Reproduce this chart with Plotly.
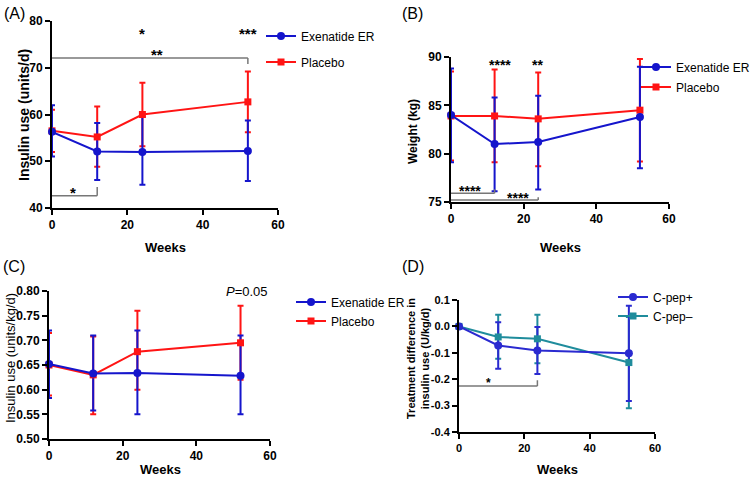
import plotly.graph_objects as go

weeks = [0, 12, 24, 52]

# Panel A: insulin use (units/d)
a_exe = [56.3, 52.1, 52.0, 52.2]
a_exe_hi = [62.0, 58.2, 59.5, 58.7]
a_exe_lo = [51.0, 46.0, 45.0, 45.8]
a_pla = [56.5, 55.2, 60.0, 62.7]
a_pla_hi = [61.0, 61.7, 66.8, 69.2]
a_pla_lo = [52.0, 48.8, 53.2, 56.2]

# Panel B: weight (kg)
b_exe = [84.0, 81.0, 81.2, 83.8]
b_exe_hi = [88.8, 85.8, 86.0, 89.0]
b_exe_lo = [79.1, 76.1, 76.3, 78.5]
b_pla = [83.9, 83.9, 83.6, 84.5]
b_pla_hi = [88.5, 88.7, 88.4, 89.8]
b_pla_lo = [79.3, 79.1, 78.7, 79.2]

# Panel C: insulin use (units/kg/d)
c_exe = [0.652, 0.633, 0.634, 0.628]
c_exe_hi = [0.720, 0.710, 0.720, 0.710]
c_exe_lo = [0.583, 0.558, 0.550, 0.550]
c_pla = [0.650, 0.630, 0.677, 0.695]
c_pla_hi = [0.715, 0.708, 0.760, 0.770]
c_pla_lo = [0.588, 0.550, 0.600, 0.620]

# Panel D: treatment difference (U/kg/d)
d_pos = [0.0, -0.072, -0.091, -0.102]
d_pos_hi = [0.0, 0.016, -0.002, 0.078]
d_pos_lo = [0.0, -0.160, -0.180, -0.283]
d_neg = [0.0, -0.040, -0.047, -0.137]
d_neg_hi = [0.0, 0.044, 0.044, 0.036]
d_neg_lo = [0.0, -0.123, -0.140, -0.310]

x_ticks = [0, 20, 40, 60]
a_yticks = [40, 50, 60, 70, 80]
b_yticks = [75, 80, 85, 90]
c_yticks = [0.50, 0.55, 0.60, 0.65, 0.70, 0.75, 0.80]
d_yticks = [0.1, 0.0, -0.1, -0.2, -0.3, -0.4]
d_yticktext = ["0.1", "0.0", "-0.1", "-0.2", "-0.3", "-0.4"]

BLUE = "#1515cc"
RED = "#ff1414"
DBLUE = "#2a2ad0"
TEAL = "#1f8c9c"
GRAY = "#777777"
FONT = "Liberation Sans, Arial, sans-serif"

fig = go.Figure()


def err(mean, hi, lo, color, width=3):
    return dict(type="data", symmetric=False,
                array=[h - m for h, m in zip(hi, mean)],
                arrayminus=[m - l for m, l in zip(mean, lo)],
                color=color, thickness=2, width=width)


def panel(xa, ya, series):
    # error bars first
    for (name, mean, hi, lo, color, sym, leg) in series:
        fig.add_trace(go.Scatter(x=weeks, y=mean, mode="markers",
                                 marker=dict(size=1, opacity=0, color=color),
                                 error_y=err(mean, hi, lo, color),
                                 xaxis=xa, yaxis=ya, showlegend=False,
                                 cliponaxis=False, hoverinfo="skip"))
    for (name, mean, hi, lo, color, sym, leg) in series:
        fig.add_trace(go.Scatter(x=weeks, y=mean, mode="lines+markers", name=name,
                                 line=dict(color=color, width=2),
                                 marker=dict(symbol=sym, size=8 if sym == "circle" else 7, color=color),
                                 xaxis=xa, yaxis=ya, legend=leg, cliponaxis=False))


panel("x", "y", [("Placebo", a_pla, a_pla_hi, a_pla_lo, RED, "square", "legend2"),
                 ("Exenatide ER", a_exe, a_exe_hi, a_exe_lo, BLUE, "circle", "legend")])
panel("x2", "y2", [("Placebo", b_pla, b_pla_hi, b_pla_lo, RED, "square", "legend4"),
                   ("Exenatide ER", b_exe, b_exe_hi, b_exe_lo, BLUE, "circle", "legend3")])
panel("x3", "y3", [("Placebo", c_pla, c_pla_hi, c_pla_lo, RED, "square", "legend6"),
                   ("Exenatide ER", c_exe, c_exe_hi, c_exe_lo, BLUE, "circle", "legend5")])
panel("x4", "y4", [("C-pep–", d_neg, d_neg_hi, d_neg_lo, TEAL, "square", "legend8"),
                   ("C-pep+", d_pos, d_pos_hi, d_pos_lo, DBLUE, "circle", "legend7")])

W, H = 753, 477


def px_x(p):
    return p / W


def px_y(p):
    return 1 - p / H


def axis(domain, rng, tickvals, anchor, size=12, ticktext=None, fmt=None):
    d = dict(domain=domain, range=rng, tickvals=tickvals, anchor=anchor,
             showline=True, linecolor="black", linewidth=2, ticks="outside",
             ticklen=5, tickwidth=2, tickcolor="black", showgrid=False, zeroline=False,
             tickfont=dict(family=FONT, size=size, color="black", weight="bold"))
    if ticktext is not None:
        d["ticktext"] = ticktext
    if fmt:
        d["tickformat"] = fmt
    return d


layout = dict(width=W, height=H, autosize=False,
              margin=dict(l=0, r=0, t=0, b=0, pad=0, autoexpand=False),
              paper_bgcolor="white", plot_bgcolor="white",
              font=dict(family=FONT, color="black"))

layout["xaxis"] = axis([px_x(52), px_x(278)], [0, 60], x_ticks, "y")
layout["yaxis"] = axis([px_y(208), px_y(21)], [40, 80], a_yticks, "x")
layout["xaxis2"] = axis([px_x(451), px_x(669)], [0, 60], x_ticks, "y2")
layout["yaxis2"] = axis([px_y(202), px_y(57)], [75, 90], b_yticks, "x2")
layout["xaxis3"] = axis([px_x(49), px_x(270)], [0, 60], x_ticks, "y3")
layout["yaxis3"] = axis([px_y(439), px_y(291)], [0.5, 0.8], c_yticks, "x3", fmt=".2f")
layout["xaxis4"] = axis([px_x(459), px_x(655)], [0, 60], x_ticks, "y4", size=11)
layout["yaxis4"] = axis([px_y(432), px_y(300)], [-0.4, 0.1], d_yticks, "x4", size=11, ticktext=d_yticktext)

# legends
leg_specs = {
    "legend": (261, 36, 12), "legend2": (261, 62, 12),
    "legend3": (636, 67, 12), "legend4": (636, 87, 12),
    "legend5": (291, 302, 12), "legend6": (291, 321, 12),
    "legend7": (613, 297, 12), "legend8": (613, 316, 12),
}
for k, (lx, ly, fs) in leg_specs.items():
    layout[k] = dict(x=px_x(lx), y=px_y(ly), xanchor="left", yanchor="middle",
                     bgcolor="rgba(0,0,0,0)", borderwidth=0, itemwidth=30,
                     font=dict(family=FONT, size=fs, color="black"))

fig.update_layout(**layout)

# shapes: significance brackets
def bracket(xa, ya, x0, x1, yb, ytick):
    fig.add_shape(type="line", xref=xa, yref=ya, x0=x0, x1=x1, y0=yb, y1=yb,
                  line=dict(color=GRAY, width=1.5))
    fig.add_shape(type="line", xref=xa, yref=ya, x0=x1, x1=x1, y0=yb, y1=ytick,
                  line=dict(color=GRAY, width=1.5))

bracket("x", "y", 0, 52, 72.1, 70.8)
bracket("x", "y", 0, 12, 42.6, 44.5)
bracket("x2", "y2", 0, 12, 75.9, 76.3)
bracket("x2", "y2", 0, 24, 75.2, 75.5)
bracket("x4", "y4", 0, 24, -0.226, -0.204)

def note(xa, ya, x, y, text, size=15):
    fig.add_annotation(xref=xa, yref=ya, x=x, y=y, text=text, showarrow=False,
                       font=dict(family=FONT, size=size, color="black", weight="bold"))

note("x", "y", 24, 77.4, "*")
note("x", "y", 52, 77.4, "***")
note("x", "y", 27.8, 72.8, "**")
note("x", "y", 5.6, 43.3, "*")
note("x2", "y2", 13.5, 89.2, "****", 14)
note("x2", "y2", 23.9, 89.2, "**", 14)
note("x2", "y2", 5.2, 76.1, "****", 14)
note("x2", "y2", 18.4, 75.4, "****", 14)
note("x4", "y4", 8.9, -0.213, "*", 12)

fig.add_annotation(xref="x3", yref="y3", x=53.7, y=0.8, text="<i>P</i>=0.05", showarrow=False,
                   font=dict(family=FONT, size=13, color="black"))

# paper annotations: panel labels, axis titles
def ptext(x, y, text, size, bold=False, angle=0):
    fig.add_annotation(xref="paper", yref="paper", x=px_x(x), y=px_y(y), text=text,
                       showarrow=False, textangle=angle, xanchor="center", yanchor="middle",
                       font=dict(family=FONT, size=size, color="black",
                                 weight="bold" if bold else "normal"))

ptext(14, 13, "(A)", 16)
ptext(413, 13, "(B)", 16)
ptext(14, 266, "(C)", 16)
ptext(413, 266, "(D)", 16)

ptext(165, 247, "Weeks", 13, True)
ptext(560, 247, "Weeks", 13, True)
ptext(160, 469, "Weeks", 13, True)
ptext(557, 469, "Weeks", 13, True)

ptext(24, 115, "Insulin use (units/d)", 14, True, -90)
ptext(413, 131, "Weight (kg)", 12, True, -90)
ptext(10, 358, "Insulin use (units/kg/d)", 13, False, -90)
ptext(418, 358, "Treatment difference in<br>insulin use (U/kg/d)", 11, True, -90)

fig.write_html("out.html", config={"displayModeBar": False},
               post_script="document.body.style.margin='0';document.body.style.overflow='hidden';")
